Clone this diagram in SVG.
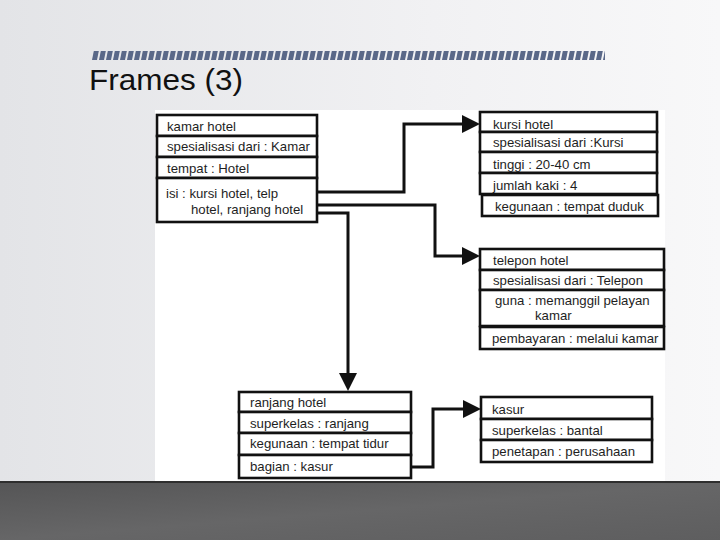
<svg xmlns="http://www.w3.org/2000/svg" width="720" height="540" viewBox="0 0 720 540">
<defs>
<linearGradient id="bg" x1="0" y1="0" x2="1" y2="0">
<stop offset="0" stop-color="#e3e4e7"/>
<stop offset="0.6" stop-color="#f1f1f3"/>
<stop offset="1" stop-color="#f8f8f9"/>
</linearGradient>
<linearGradient id="floor" x1="0" y1="0" x2="1" y2="1">
<stop offset="0" stop-color="#555556"/>
<stop offset="0.5" stop-color="#666667"/>
<stop offset="1" stop-color="#5e5e5f"/>
</linearGradient>
<pattern id="stripes" x="92" y="51" width="7" height="9" patternUnits="userSpaceOnUse">
<polygon points="1.8,0 6.8,0 5,9 0,9" fill="#5a6888"/>
</pattern>
<marker id="arr" viewBox="0 0 18 18" markerWidth="18" markerHeight="18" markerUnits="userSpaceOnUse" refX="2" refY="9" orient="auto">
<path d="M0,0 L18,9 L0,18 z" fill="#111"/>
</marker>
<style>
.row{fill:#fff;stroke:#111;stroke-width:2.6}
.t{font-family:"Liberation Sans",Arial,sans-serif;font-size:13.2px;fill:#1e1e1e}
.c{fill:none;stroke:#111;stroke-width:3}
</style>
</defs>
<rect x="0" y="0" width="720" height="540" fill="url(#bg)"/>
<rect x="92" y="51" width="513" height="9" fill="url(#stripes)"/>
<text x="89" y="90" font-family="Liberation Sans, Arial, sans-serif" font-size="30" fill="#111" textLength="154" lengthAdjust="spacingAndGlyphs">Frames (3)</text>
<rect x="155" y="110" width="510" height="372" fill="#ffffff"/>
<g id="connectors">
<path class="c" d="M318,192 H404 V124 H464" marker-end="url(#arr)"/>
<path class="c" d="M318,205 H435 V256 H464" marker-end="url(#arr)"/>
<path class="c" d="M318,213 H348 V375" marker-end="url(#arr)"/>
<path class="c" d="M411,467 H433 V409 H465" marker-end="url(#arr)"/>
</g>
<g id="kamar_hotel">
<rect class="row" x="157" y="115" width="160" height="21"/>
<rect class="row" x="157" y="136" width="160" height="21"/>
<rect class="row" x="157" y="157" width="160" height="21"/>
<rect class="row" x="157" y="178" width="160" height="44"/>
<text class="t" x="167" y="131">kamar hotel</text>
<text class="t" x="167" y="151">spesialisasi dari : Kamar</text>
<text class="t" x="167" y="173">tempat : Hotel</text>
<text class="t" x="166" y="198">isi : kursi hotel, telp</text>
<text class="t" x="191" y="214">hotel, ranjang hotel</text>
</g>
<g id="kursi_hotel">
<rect class="row" x="480" y="112" width="177" height="20"/>
<rect class="row" x="480" y="132" width="177" height="20"/>
<rect class="row" x="480" y="152" width="177" height="21"/>
<rect class="row" x="480" y="173" width="177" height="21"/>
<rect class="row" x="482" y="195" width="176" height="21"/>
<text class="t" x="493" y="129">kursi hotel</text>
<text class="t" x="493" y="147">spesialisasi dari :Kursi</text>
<text class="t" x="493" y="169">tinggi : 20-40 cm</text>
<text class="t" x="493" y="190">jumlah kaki : 4</text>
<text class="t" x="495" y="211">kegunaan : tempat duduk</text>
</g>
<g id="telepon_hotel">
<rect class="row" x="480" y="249" width="184" height="21"/>
<rect class="row" x="480" y="270" width="184" height="20"/>
<rect class="row" x="480" y="290" width="184" height="36"/>
<rect class="row" x="480" y="327" width="184" height="22"/>
<text class="t" x="493" y="265">telepon hotel</text>
<text class="t" x="493" y="285">spesialisasi dari : Telepon</text>
<text class="t" x="495" y="305">guna : memanggil pelayan</text>
<text class="t" x="535" y="320">kamar</text>
<text class="t" x="492" y="343">pembayaran : melalui kamar</text>
</g>
<g id="ranjang_hotel">
<rect class="row" x="239" y="392" width="172" height="20"/>
<rect class="row" x="239" y="412" width="172" height="21"/>
<rect class="row" x="239" y="433" width="172" height="22"/>
<rect class="row" x="239" y="455" width="172" height="23"/>
<text class="t" x="250" y="407">ranjang hotel</text>
<text class="t" x="250" y="428">superkelas : ranjang</text>
<text class="t" x="250" y="448">kegunaan : tempat tidur</text>
<text class="t" x="250" y="471">bagian : kasur</text>
</g>
<g id="kasur">
<rect class="row" x="481" y="397" width="171" height="22"/>
<rect class="row" x="481" y="419" width="171" height="21"/>
<rect class="row" x="481" y="440" width="171" height="22"/>
<text class="t" x="492" y="414">kasur</text>
<text class="t" x="492" y="435">superkelas : bantal</text>
<text class="t" x="492" y="456">penetapan : perusahaan</text>
</g>
<rect x="0" y="482" width="720" height="58" fill="url(#floor)"/>
<rect x="0" y="481" width="720" height="2" fill="#2e2e2e"/>
</svg>
